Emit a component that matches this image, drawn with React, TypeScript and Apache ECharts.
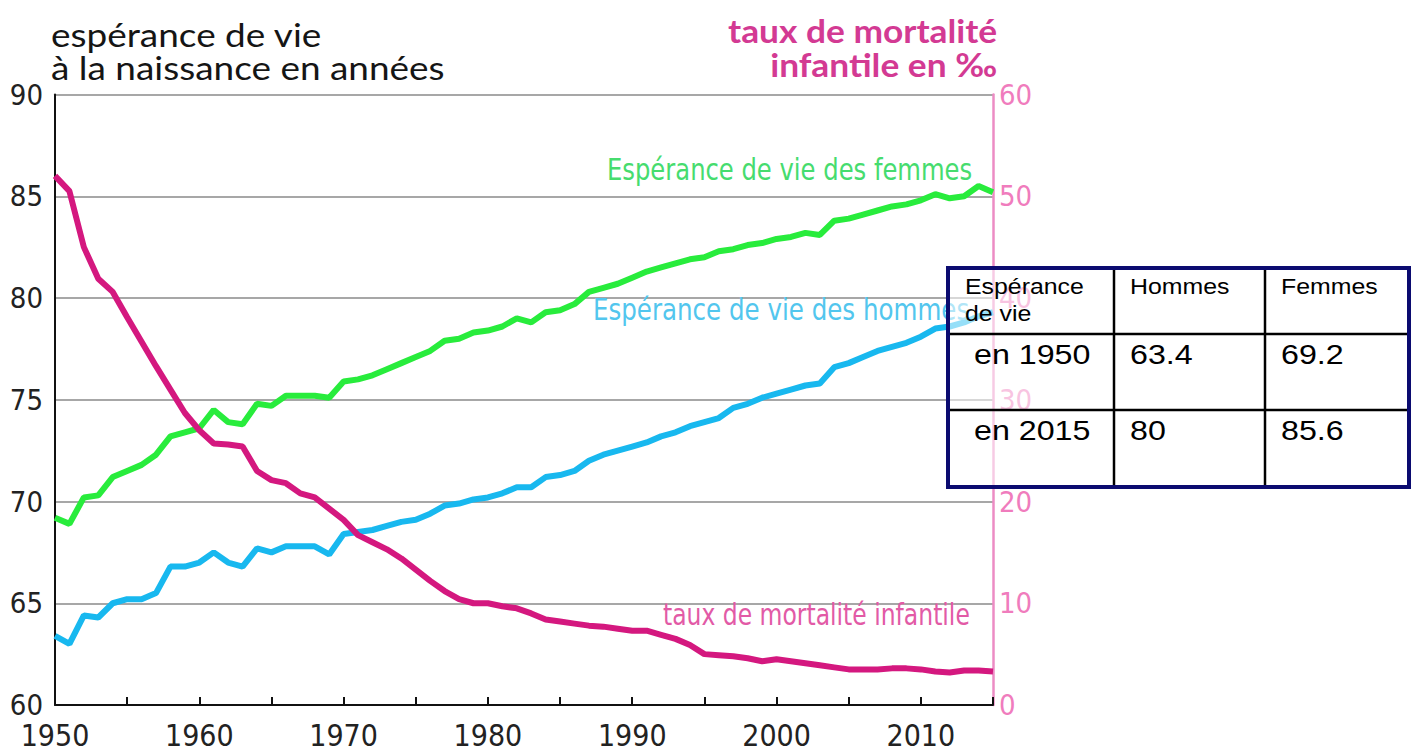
import React, { useEffect, useRef } from "react";
import * as echarts from "echarts";

const years = [
  1950, 1951, 1952, 1953, 1954, 1955, 1956, 1957, 1958, 1959,
  1960, 1961, 1962, 1963, 1964, 1965, 1966, 1967, 1968, 1969,
  1970, 1971, 1972, 1973, 1974, 1975, 1976, 1977, 1978, 1979,
  1980, 1981, 1982, 1983, 1984, 1985, 1986, 1987, 1988, 1989,
  1990, 1991, 1992, 1993, 1994, 1995, 1996, 1997, 1998, 1999,
  2000, 2001, 2002, 2003, 2004, 2005, 2006, 2007, 2008, 2009,
  2010, 2011, 2012, 2013, 2014, 2015,
];

const femmes = [
  69.2, 68.9, 70.2, 70.3, 71.2, 71.5, 71.8, 72.3, 73.2, 73.4,
  73.6, 74.5, 73.9, 73.8, 74.8, 74.7, 75.2, 75.2, 75.2, 75.1,
  75.9, 76.0, 76.2, 76.5, 76.8, 77.1, 77.4, 77.9, 78.0, 78.3,
  78.4, 78.6, 79.0, 78.8, 79.3, 79.4, 79.7, 80.3, 80.5, 80.7,
  81.0, 81.3, 81.5, 81.7, 81.9, 82.0, 82.3, 82.4, 82.6, 82.7,
  82.9, 83.0, 83.2, 83.1, 83.8, 83.9, 84.1, 84.3, 84.5, 84.6,
  84.8, 85.1, 84.9, 85.0, 85.5, 85.2,
];

const hommes = [
  63.4, 63.0, 64.4, 64.3, 65.0, 65.2, 65.2, 65.5, 66.8, 66.8,
  67.0, 67.5, 67.0, 66.8, 67.7, 67.5, 67.8, 67.8, 67.8, 67.4,
  68.4, 68.5, 68.6, 68.8, 69.0, 69.1, 69.4, 69.8, 69.9, 70.1,
  70.2, 70.4, 70.7, 70.7, 71.2, 71.3, 71.5, 72.0, 72.3, 72.5,
  72.7, 72.9, 73.2, 73.4, 73.7, 73.9, 74.1, 74.6, 74.8, 75.1,
  75.3, 75.5, 75.7, 75.8, 76.6, 76.8, 77.1, 77.4, 77.6, 77.8,
  78.1, 78.5, 78.6, 78.8, 79.1, 79.3,
];

const mortalite = [
  52.0, 50.5, 45.0, 41.9, 40.6, 38.1, 35.7, 33.3, 31.0, 28.7,
  27.0, 25.7, 25.6, 25.4, 23.0, 22.1, 21.8, 20.8, 20.4, 19.3,
  18.2, 16.7, 16.0, 15.3, 14.4, 13.3, 12.2, 11.2, 10.4, 10.0,
  10.0, 9.7, 9.5, 9.0, 8.4, 8.2, 8.0, 7.8, 7.7, 7.5,
  7.3, 7.3, 6.9, 6.5, 5.9, 5.0, 4.9, 4.8, 4.6, 4.3,
  4.5, 4.3, 4.1, 3.9, 3.7, 3.5, 3.5, 3.5, 3.6, 3.6,
  3.5, 3.3, 3.2, 3.4, 3.4, 3.3,
];

const tableHeader = ["Espérance\nde vie", "Hommes", "Femmes"];
const tableRows = [
  ["en 1950", "63.4", "69.2"],
  ["en 2015", "80", "85.6"],
];

const GREEN = "#28ec3c";
const BLUE = "#18b8ef";
const PINK = "#d4187f";
const NARROW = '"Liberation Sans Narrow", "DejaVu Sans Condensed", "Liberation Sans", sans-serif';
const ARIAL = '"Liberation Sans", Arial, sans-serif';

export default function App() {
  const ref = useRef<HTMLDivElement>(null);

  useEffect(() => {
    if (!ref.current) return;
    const chart = echarts.init(ref.current, null, { renderer: "svg" });

    const pairs = (vals: number[]) => years.map((y, i) => [y, vals[i]]);

    // table geometry
    const tX = [948, 1114, 1265, 1409];
    const tY = [268, 334, 410, 487];
    const tableGraphics: any[] = [
      {
        type: "rect",
        shape: { x: tX[0], y: tY[0], width: tX[3] - tX[0], height: tY[3] - tY[0] },
        style: { fill: "rgba(255,255,255,0.55)", stroke: "none" },
        z: 10,
      },
    ];
    [tY[1], tY[2]].forEach((y) =>
      tableGraphics.push({
        type: "line",
        shape: { x1: tX[0], y1: y, x2: tX[3], y2: y },
        style: { stroke: "#000", lineWidth: 2.5 },
        z: 11,
      })
    );
    [tX[1], tX[2]].forEach((x) =>
      tableGraphics.push({
        type: "line",
        shape: { x1: x, y1: tY[0], x2: x, y2: tY[3] },
        style: { stroke: "#000", lineWidth: 2.5 },
        z: 11,
      })
    );
    tableGraphics.push({
      type: "rect",
      shape: { x: tX[0], y: tY[0], width: tX[3] - tX[0], height: tY[3] - tY[0] },
      style: { fill: "none", stroke: "#0b0b70", lineWidth: 4 },
      z: 12,
    });
    tableHeader.forEach((t, c) =>
      tableGraphics.push({
        type: "text",
        x: tX[c] + (c === 0 ? 17 : 16),
        y: tY[0] + 5,
        scaleX: 1.13,
        style: {
          text: t,
          font: "22px " + ARIAL,
          fill: "#000",
          lineHeight: 27,
        },
        z: 13,
      })
    );
    tableRows.forEach((row, r) =>
      row.forEach((t, c) =>
        tableGraphics.push({
          type: "text",
          x: tX[c] + (c === 0 ? 26 : 16),
          y: tY[r + 1] + 6,
          scaleX: 1.15,
          style: {
            text: t,
            font: "28px " + ARIAL,
            fill: "#000",
          },
          z: 13,
        })
      )
    );

    chart.setOption({
      animation: false,
      backgroundColor: "#fff",
      grid: { left: 55, right: 421, top: 94.5, bottom: 49, containLabel: false },
      xAxis: {
        type: "value",
        min: 1950,
        max: 2015,
        interval: 5,
        axisLine: { show: true, lineStyle: { color: "#111", width: 2 } },
        axisTick: { show: true, inside: true, length: 8, lineStyle: { color: "#111", width: 2 } },
        splitLine: { show: false },
        axisLabel: {
          formatter: (v: number) => (v % 10 === 0 ? String(v) : ""),
          color: "#222",
          fontFamily: NARROW,
          fontSize: 30,
          margin: 15,
          showMaxLabel: true,
        },
      },
      yAxis: [
        {
          type: "value",
          min: 60,
          max: 90,
          interval: 5,
          position: "left",
          axisLine: { show: true, lineStyle: { color: "#111", width: 2 } },
          axisTick: { show: false },
          splitLine: { show: true, lineStyle: { color: "#8a8a8a", width: 1.5 } },
          axisLabel: { color: "#222", fontFamily: NARROW, fontSize: 29, margin: 12 },
        },
        {
          type: "value",
          min: 0,
          max: 60,
          interval: 10,
          position: "right",
          axisLine: { show: true, lineStyle: { color: "#ec8cc4", width: 2.5 } },
          axisTick: { show: false },
          splitLine: { show: false },
          axisLabel: { color: "#f07cbd", fontFamily: NARROW, fontSize: 29, margin: 6 },
        },
      ],
      series: [
        {
          name: "Espérance de vie des femmes",
          type: "line",
          yAxisIndex: 0,
          data: pairs(femmes),
          showSymbol: false,
          lineStyle: { color: GREEN, width: 6 },
          z: 3,
        },
        {
          name: "Espérance de vie des hommes",
          type: "line",
          yAxisIndex: 0,
          data: pairs(hommes),
          showSymbol: false,
          lineStyle: { color: BLUE, width: 6 },
          z: 3,
        },
        {
          name: "taux de mortalité infantile",
          type: "line",
          yAxisIndex: 1,
          data: pairs(mortalite),
          showSymbol: false,
          lineStyle: { color: PINK, width: 6 },
          z: 4,
        },
      ],
      graphic: [
        {
          type: "text",
          x: 51,
          y: 17,
          scaleX: 1.12,
          style: {
            text: "espérance de vie\nà la naissance en années",
            font: '33px "Lato", "Open Sans", sans-serif',
            fill: "#151515",
            lineHeight: 33,
          },
        },
        {
          type: "text",
          x: 997,
          y: 13,
          scaleX: 1.07,
          style: {
            text: "taux de mortalité\ninfantile en ‰",
            font: 'bold 33px "Lato", "Open Sans", sans-serif',
            fill: "#d33a93",
            lineHeight: 34,
            align: "right",
          },
        },
        {
          type: "text",
          x: 607,
          y: 154,
          scaleX: 0.87,
          style: {
            text: "Espérance de vie des femmes",
            font: "31px " + NARROW,
            fill: "#46dc6e",
          },
          z: 5,
        },
        {
          type: "text",
          x: 593,
          y: 294,
          scaleX: 0.88,
          style: {
            text: "Espérance de vie des hommes",
            font: "31px " + NARROW,
            fill: "#52c6ee",
          },
          z: 5,
        },
        {
          type: "text",
          x: 663,
          y: 600,
          scaleX: 0.87,
          style: {
            text: "taux de mortalité infantile",
            font: "30px " + NARROW,
            fill: "#e25aa6",
          },
          z: 5,
        },
        ...tableGraphics,
      ],
    });

    return () => chart.dispose();
  }, []);

  return (
    <div
      ref={ref}
      style={{ position: "fixed", left: 0, top: 0, width: 1414, height: 754 }}
    />
  );
}
